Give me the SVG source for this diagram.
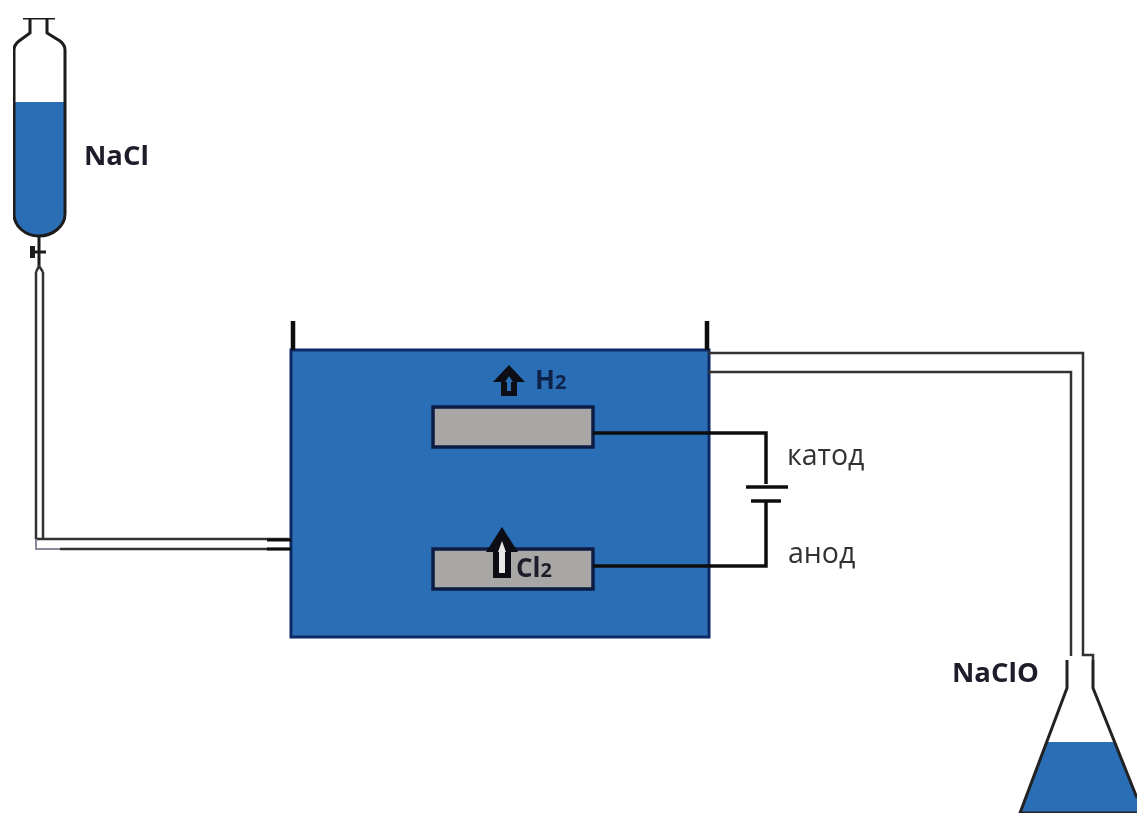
<svg xmlns="http://www.w3.org/2000/svg" width="1137" height="815" viewBox="0 0 1137 815">
<defs><filter id="soft" x="0" y="0" width="100%" height="100%"><feGaussianBlur stdDeviation="0.55"/></filter></defs>
<style>
.l{fill:none;stroke:#1c1c1c;stroke-width:3}
.t{fill:none;stroke:#333;stroke-width:2.500}
.w{fill:none;stroke:#101010;stroke-width:3.500}
.lab{font-family:"Open Sans","Noto Sans",sans-serif;font-size:28.500px;fill:#333}
.b{font-family:"Open Sans","Noto Sans",sans-serif;font-size:27.500px;font-weight:700;fill:#1e1e2a}
.e{fill:#a9a7a6;stroke:#0c1c45;stroke-width:3.500}
.ar{fill:#0b0b12}
</style>
<rect width="1137" height="815" fill="#fff"/>
<g filter="url(#soft)">
<g id="funnel">
<path d="M13.500 102V214C13.500 226 25 236 39 236C53 236 65 226 65 214V102Z" fill="#2a6eb6"/>
<path class="l" d="M23 18H55M30 18V33L19 41Q14 45 14 50V214C14 226 25 236 39 236C53 236 65 226 65 214V50Q65 45 60 41L47 33V18"/>
<path d="M39 236V266" stroke="#1c1c1c" stroke-width="3" fill="none"/>
<path d="M31 252H46" stroke="#1c1c1c" stroke-width="3" fill="none"/>
<rect x="30" y="246" width="5" height="12" fill="#1c1c1c"/>
</g>
<g id="cell">
<rect x="291" y="350" width="418" height="287" fill="#2a6eb6" stroke="#0c2c66" stroke-width="3"/>
<path d="M293 321V350M707 321V350" stroke="#111" stroke-width="4.500" fill="none"/>
</g>
<g id="cathode"><rect class="e" x="433" y="407" width="160" height="40"/></g>
<g id="anode"><rect class="e" x="433" y="549" width="160" height="40"/></g>
<g id="connectors">
<path class="t" d="M36 272V539M43 272V539"/>
<path class="t" d="M36 272L39 266L43 272"/>
<path class="t" d="M36 539H291M60 549H291"/>
<path d="M36 539V549H60" stroke="#8a8a9c" stroke-width="2" fill="none"/>
<path d="M267 540H291M267 549H291" stroke="#111" stroke-width="3" fill="none"/>
<path class="t" d="M708 353H1083V655H1093V660M708 372H1071V656"/>
<path class="w" d="M593 433H766V484M593 566H766V502"/>
<path d="M746 487H788M751 501H781" stroke="#111" stroke-width="3.500" fill="none"/>
</g>
<g id="flask">
<path d="M1047 742H1115L1137 797V813H1020Z" fill="#2a6eb6"/>
<path d="M1067 660V688L1020 813H1137M1093 660V688L1137 798" fill="none" stroke="#222" stroke-width="3"/>
</g>
<g id="arrow-h2">
<path class="ar" d="M509 365L525 382H517V396H501V382H493Z"/>
<path d="M509 376L513 382H511V391H507V382H505Z" fill="#2a6eb6"/>
</g>
<g id="arrow-cl2">
<path class="ar" d="M502 527L518 552H511V578H493V552H486Z"/>
<path d="M502 541L506 552H505V573H499V552H498Z" fill="#e8e8e8"/>
</g>
<g id="texts">
<text class="b" x="84" y="165">NaCl</text>
<text class="b" x="535" y="389" style="font-size:26px;fill:#10204a">H<tspan style="font-size:20px">2</tspan></text>
<text class="b" x="516" y="577" style="font-size:26px">Cl<tspan style="font-size:20px">2</tspan></text>
<text class="lab" x="787" y="465">катод</text>
<text class="lab" x="788" y="563">анод</text>
<text class="b" x="952" y="682">NaClO</text>
</g>
</g>
</svg>
